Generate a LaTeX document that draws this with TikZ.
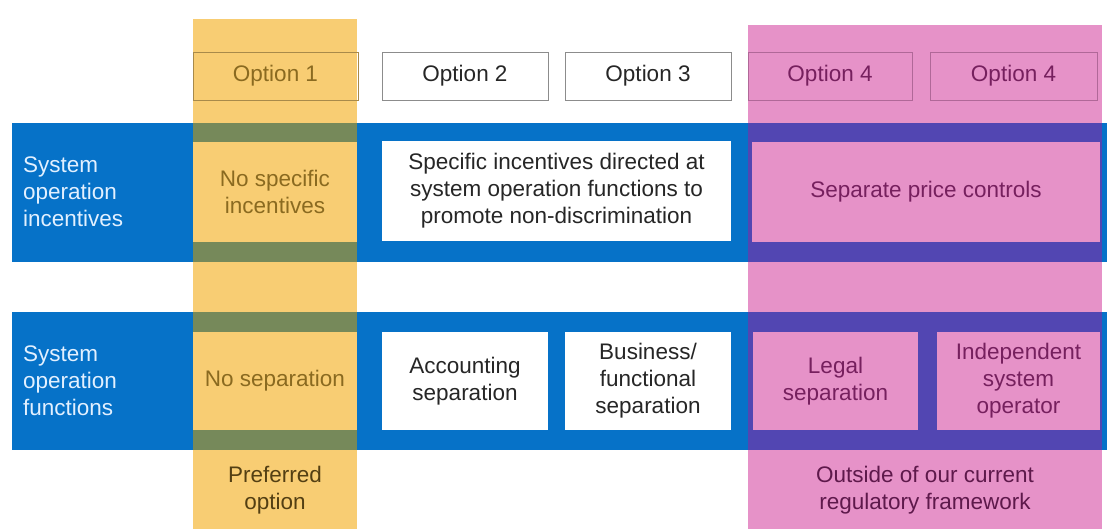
\documentclass[tikz,border=0pt]{standalone}
\usepackage{fontspec}
\setmainfont{Liberation Sans}
\usetikzlibrary{positioning}
\definecolor{rowblue}{RGB}{6,114,200}
\definecolor{optyellow}{RGB}{248,205,115}
\definecolor{optpink}{RGB}{230,146,200}
\definecolor{yellowrow}{RGB}{118,137,90}
\definecolor{pinkrow}{RGB}{82,70,178}
\definecolor{yellowtext}{RGB}{138,106,32}
\definecolor{pinktext}{RGB}{118,32,94}
\definecolor{yellowline}{RGB}{168,138,74}
\definecolor{pinkline}{RGB}{176,104,152}
\definecolor{boxgrey}{RGB}{140,140,140}
\definecolor{darktext}{RGB}{38,38,38}
\definecolor{labeltext}{RGB}{226,240,255}
\tikzset{
  headbox/.style={
    rectangle, draw=boxgrey, line width=0.8pt,
    minimum height=48pt, minimum width=166pt,
    inner sep=0pt, text=darktext
  },
  cellbox/.style={
    rectangle, fill=white, text=darktext,
    minimum height=100pt, minimum width=166pt,
    align=center, inner sep=0pt
  },
  rowlabel/.style={anchor=west, align=left, text=labeltext, inner sep=0pt},
  notetext/.style={align=center, inner sep=0pt}
}

\begin{document}
\begin{tikzpicture}[x=1pt, y=-1pt, font=\fontsize{22.5}{27}\selectfont]
  \useasboundingbox (0,0) rectangle (1107,529);

  % the two rows
  \fill[rowblue] (12,123) rectangle (1107,262);
  \fill[rowblue] (12,312) rectangle (1107,450);

  % highlighted option columns
  \fill[optyellow] (193,19) rectangle (357,529);
  \fill[optpink] (748,25) rectangle (1102,529);
  \fill[yellowrow] (193,123) rectangle (357,262);
  \fill[yellowrow] (193,312) rectangle (357,450);
  \fill[pinkrow] (748,123) rectangle (1102,262);
  \fill[pinkrow] (748,312) rectangle (1102,450);

  % option headers
  \node[headbox, draw=yellowline, text=yellowtext, minimum width=165pt] (opt1) at (275.5,76) {Option 1};
  \node[headbox] (opt2) at (465,76) {Option 2};
  \node[headbox] (opt3) at (648,76) {Option 3};
  \node[headbox, draw=pinkline, text=pinktext, minimum width=164pt] (opt4a) at (830,76) {Option 4};
  \node[headbox, draw=pinkline, text=pinktext, minimum width=167pt] (opt4b) at (1013.5,76) {Option 4};

  % row labels
  \node[rowlabel] (incent) at (23,192) {System\\operation\\incentives};
  \node[rowlabel] (funct) at (23,381) {System\\operation\\functions};

  % incentives row
  \node[cellbox, fill=optyellow, text=yellowtext, minimum width=164pt] (nospec) at (275,192) {No specific\\incentives};
  \node[cellbox, minimum width=349pt] (specific) at (556.5,191) {Specific incentives directed at\\system operation functions to\\promote non-discrimination};
  \node[cellbox, fill=optpink, text=pinktext, minimum width=348pt] (pricectl) at (926,192) {Separate price controls};

  % functions row
  \node[cellbox, fill=optyellow, text=yellowtext, minimum width=164pt, minimum height=98pt] (nosep) at (275,381) {No separation};
  \node[cellbox, minimum height=98pt] (account) at (465,381) {Accounting\\separation};
  \node[cellbox, minimum height=98pt] (business) at (648,381) {Business/\\functional\\separation};
  \node[cellbox, fill=optpink, text=pinktext, minimum width=165pt, minimum height=98pt] (legal) at (835.5,381) {Legal\\separation};
  \node[cellbox, fill=optpink, text=pinktext, minimum width=163pt, minimum height=98pt] (indep) at (1018.5,381) {Independent\\system\\operator};

  % notes under the columns
  \node[notetext, text=yellowtext!60!black] (preferred) at (275,490) {Preferred\\option};
  \node[notetext, text=pinktext!80!black] (outside) at (925,490) {Outside of our current\\regulatory framework};
\end{tikzpicture}
\end{document}
